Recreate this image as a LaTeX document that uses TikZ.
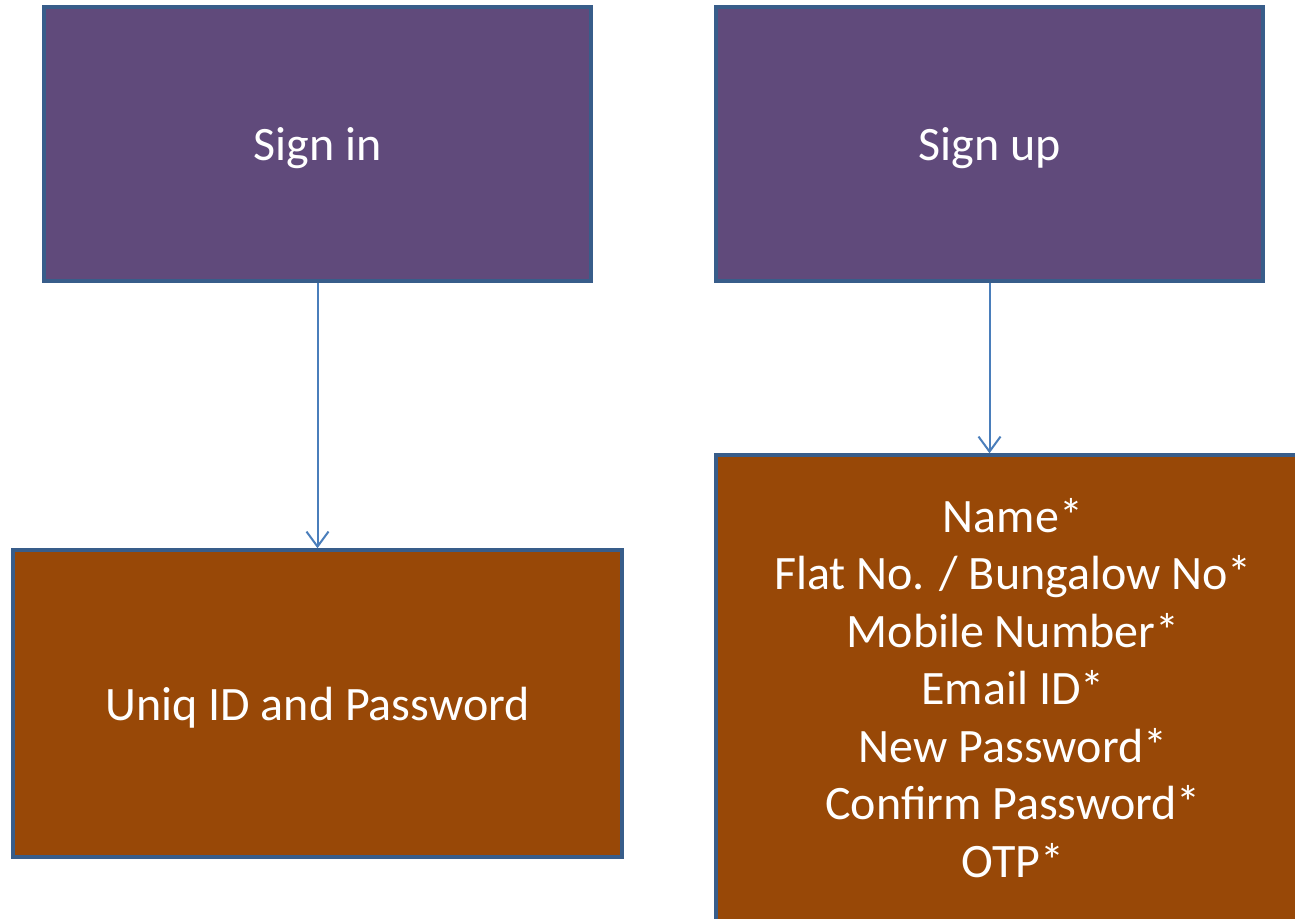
\documentclass[tikz,border=0pt]{standalone}
\usepackage{fontspec}
\setmainfont{Carlito}
\usetikzlibrary{arrows.meta}
\definecolor{purplefill}{HTML}{604A7B}
\definecolor{brownfill}{HTML}{984807}
\definecolor{boxedge}{HTML}{385D8A}
\definecolor{arrowcol}{HTML}{4A7EBB}
\tikzset{
  boxstyle/.style={draw=boxedge, line width=3.5pt, rectangle, inner sep=0pt, text=white,
    font=\fontsize{48}{57.5}\selectfont, align=center},
  topbox/.style={boxstyle, fill=purplefill},
  bottombox/.style={boxstyle, fill=brownfill},
  boxtext/.style={text=white, font=\fontsize{48}{57.5}\selectfont, align=center},
  link/.style={draw=arrowcol, line width=2pt, -{Straight Barb[length=15pt,width=22pt,line width=2pt]}}
}
\begin{document}
\begin{tikzpicture}[x=1pt,y=-1pt]
\useasboundingbox (0,0) rectangle (1295,918);
\begin{scope}
\clip (0,0) rectangle (1295,918);
\node[topbox, minimum width=547pt, minimum height=274pt] (signin) at (317.5,144) {};
\node[topbox, minimum width=547pt, minimum height=274pt] (signup) at (989.5,144) {};
\node[boxtext] (signintext) at (317.5,148) {Sign in};
\node[boxtext] (signuptext) at (989.5,148) {Sign up};
\node[bottombox, minimum width=609pt, minimum height=307pt] (uniq) at (317.5,703.5) {};
\node[boxtext] (uniqtext) at (317.5,708) {Uniq ID and Password};
\node[bottombox, minimum width=594pt, minimum height=466pt] (details) at (1013,688) {Name*\\Flat No. / Bungalow No*\\Mobile Number*\\Email ID*\\New Password*\\Confirm Password*\\OTP*};
\draw[link] (signin.south) -- (uniq.north);
\draw[link] (signup.south) -- (signup.south |- details.north);
\end{scope}
\end{tikzpicture}
\end{document}
